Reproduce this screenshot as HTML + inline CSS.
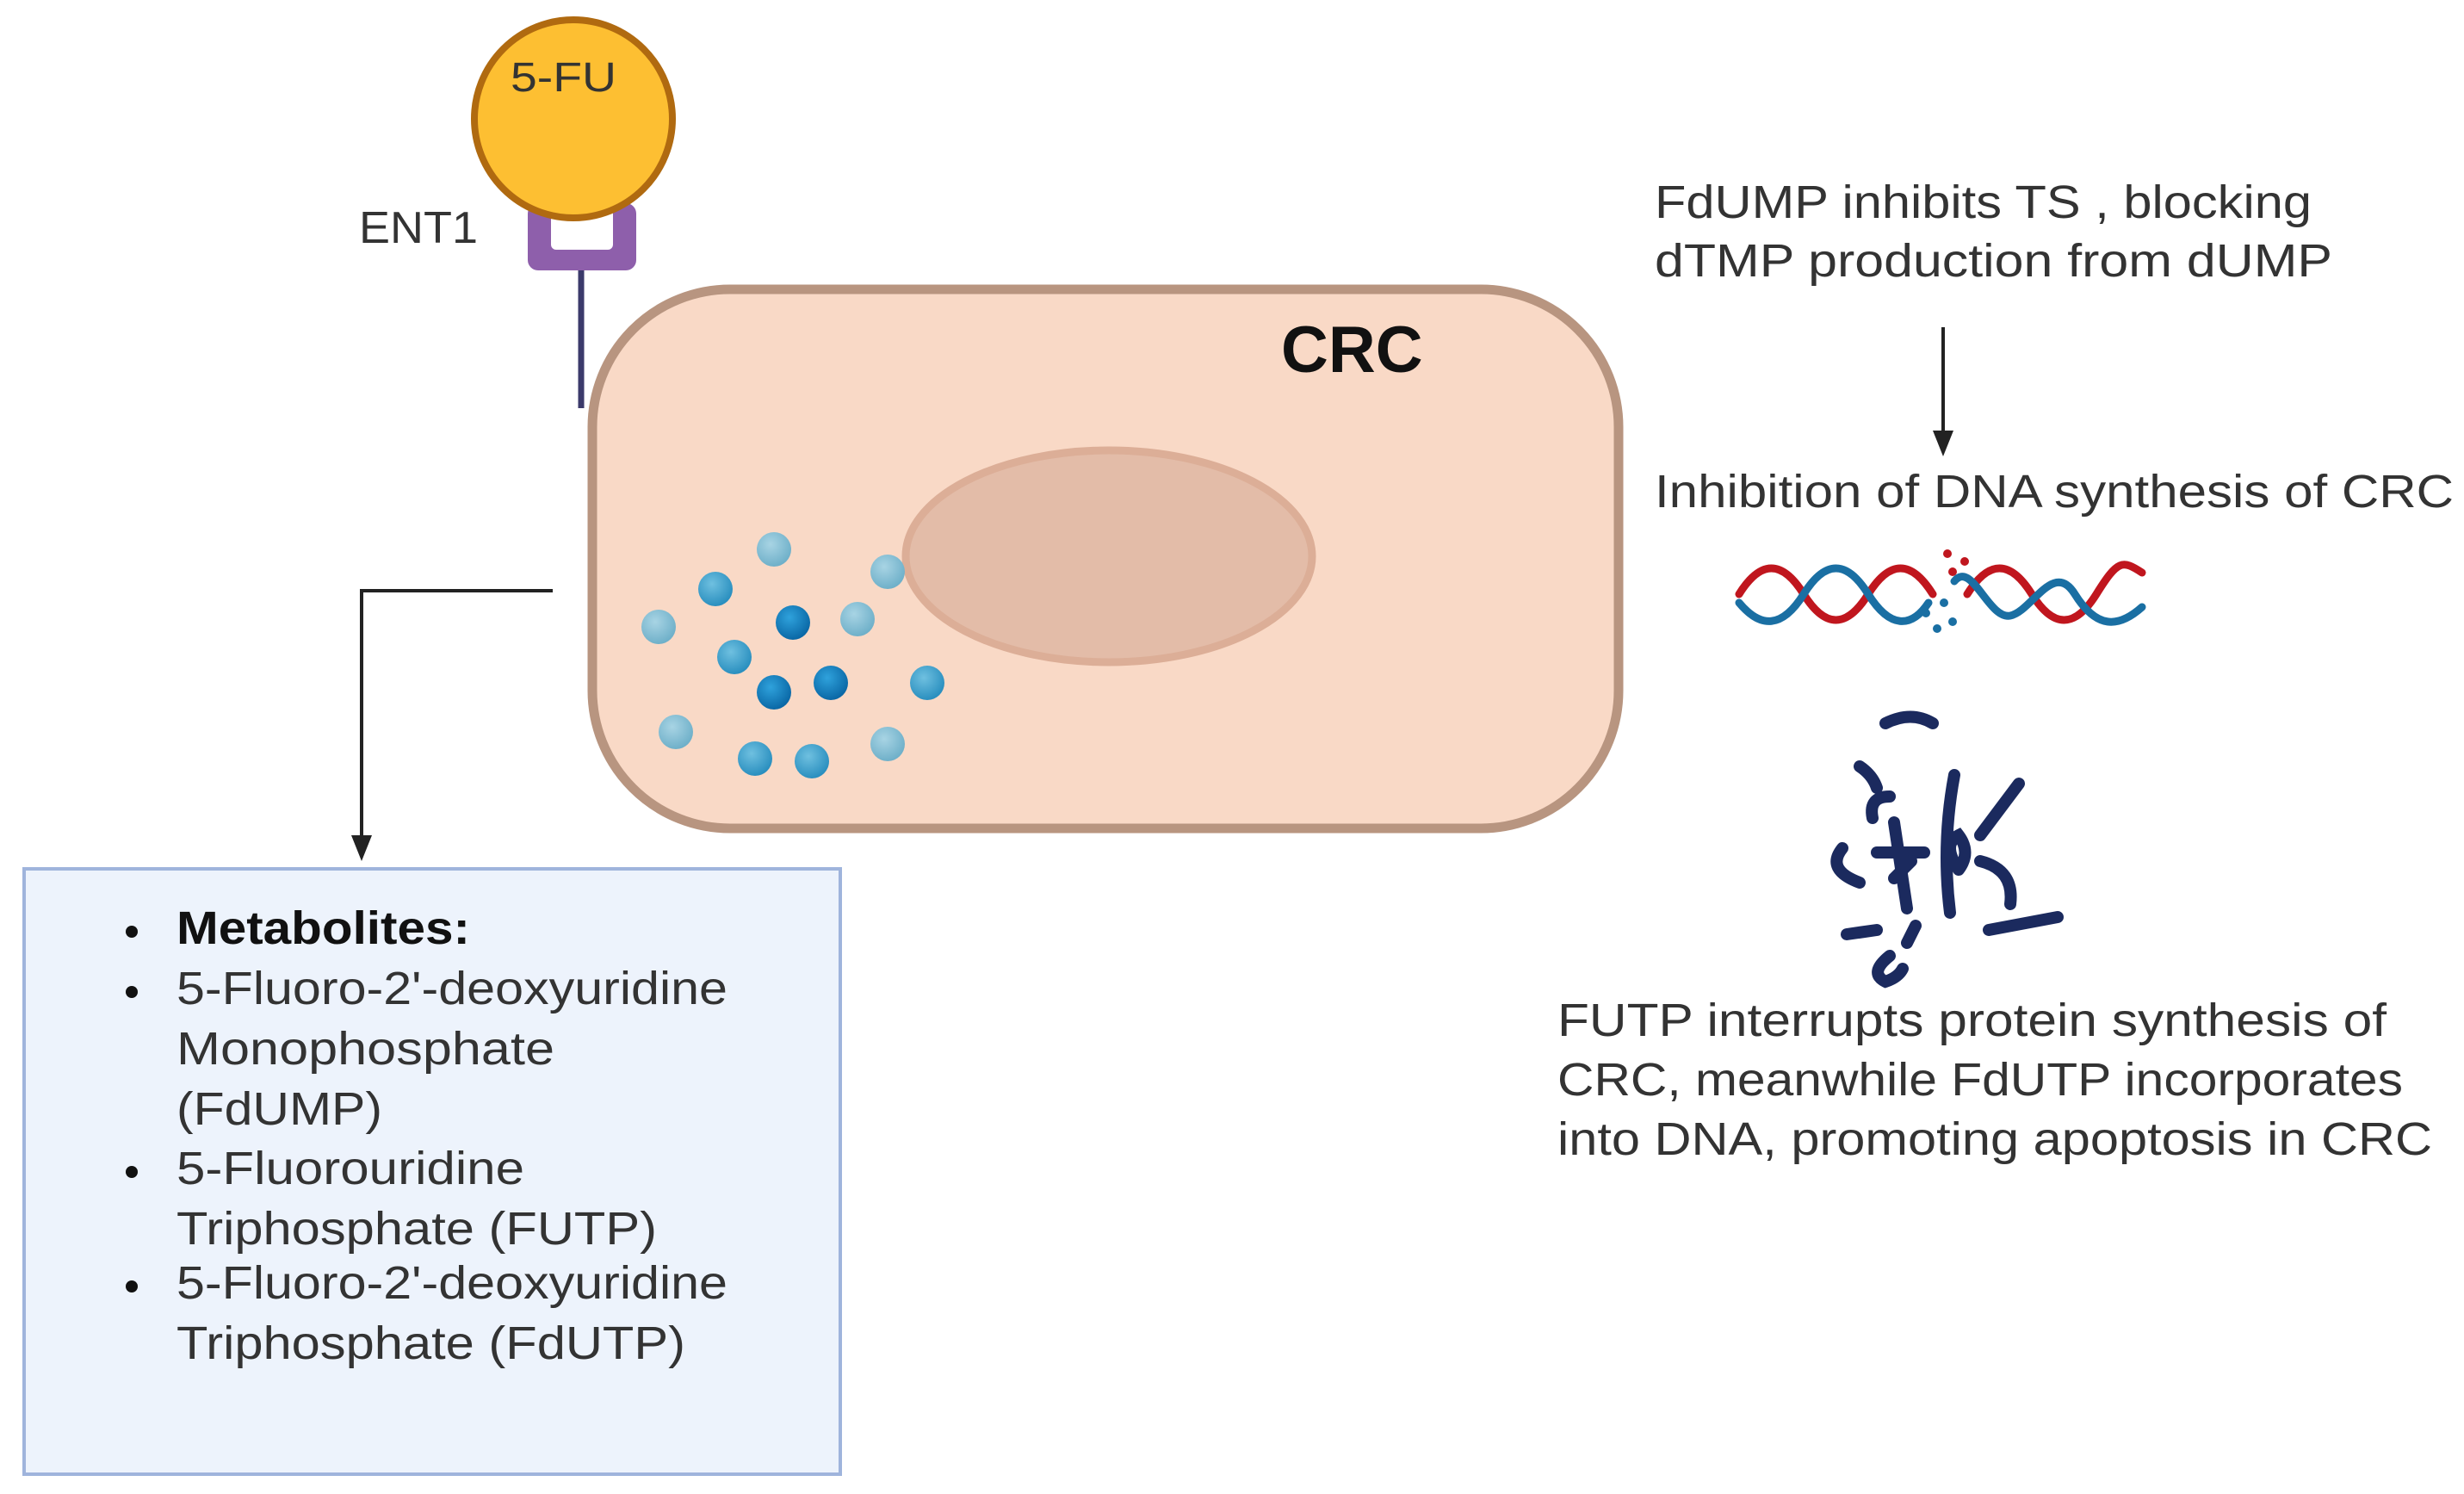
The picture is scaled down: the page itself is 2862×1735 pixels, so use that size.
<!DOCTYPE html>
<html><head><meta charset="utf-8"><style>
html,body{margin:0;padding:0;background:#fff;}
svg{display:block;}
text{font-family:"Liberation Sans",sans-serif;fill:#333;}
</style></head><body>
<svg width="2862" height="1735" viewBox="0 0 2862 1735" xmlns="http://www.w3.org/2000/svg">
<defs>
<radialGradient id="gl" cx="40%" cy="35%" r="65%"><stop offset="0" stop-color="#a8d4e4"/><stop offset="1" stop-color="#6fb0c9"/></radialGradient>
<radialGradient id="gm" cx="40%" cy="35%" r="65%"><stop offset="0" stop-color="#6fc0e0"/><stop offset="1" stop-color="#2a8fbf"/></radialGradient>
<radialGradient id="gd" cx="40%" cy="35%" r="65%"><stop offset="0" stop-color="#2fa2dc"/><stop offset="1" stop-color="#0a68a6"/></radialGradient>
</defs>

<rect x="688" y="336" width="1192" height="626" rx="160" ry="160" fill="#f9d9c6" stroke="#b89580" stroke-width="11"/>
<ellipse cx="1288" cy="646" rx="236" ry="123" fill="#e3bca8" stroke="#dcae97" stroke-width="9"/>
<text x="1488" y="432" font-size="76" font-weight="bold" style="fill:#111">CRC</text>

<g>
<circle cx="899" cy="638" r="20" fill="url(#gl)"/>
<circle cx="831" cy="684" r="20" fill="url(#gm)"/>
<circle cx="1031" cy="664" r="20" fill="url(#gl)"/>
<circle cx="765" cy="728" r="20" fill="url(#gl)"/>
<circle cx="921" cy="723" r="20" fill="url(#gd)"/>
<circle cx="996" cy="719" r="20" fill="url(#gl)"/>
<circle cx="853" cy="763" r="20" fill="url(#gm)"/>
<circle cx="899" cy="804" r="20" fill="url(#gd)"/>
<circle cx="965" cy="793" r="20" fill="url(#gd)"/>
<circle cx="1077" cy="793" r="20" fill="url(#gm)"/>
<circle cx="785" cy="850" r="20" fill="url(#gl)"/>
<circle cx="877" cy="881" r="20" fill="url(#gm)"/>
<circle cx="943" cy="884" r="20" fill="url(#gm)"/>
<circle cx="1031" cy="864" r="20" fill="url(#gl)"/>
</g>

<line x1="675" y1="310" x2="675" y2="474" stroke="#3b3a6b" stroke-width="7"/>
<rect x="613" y="236" width="126" height="78" rx="12" fill="#8e5fab"/>
<rect x="640" y="236" width="72" height="54" rx="6" fill="#fff"/>
<circle cx="666" cy="138" r="115" fill="#fdbf32" stroke="#b06a10" stroke-width="8"/>
<text x="593" y="106" font-size="48" textLength="123" lengthAdjust="spacingAndGlyphs">5-FU</text>
<text x="417" y="282" font-size="52" textLength="138" lengthAdjust="spacingAndGlyphs">ENT1</text>

<!-- connector -->
<polyline points="642,686 420,686 420,975" fill="none" stroke="#222" stroke-width="4"/>
<polygon points="408,970 432,970 420,1000" fill="#222"/>

<rect x="28" y="1009" width="948" height="703" fill="#edf3fc" stroke="#9fb4dc" stroke-width="4"/>
<g font-size="54">
<circle cx="153" cy="1082" r="7" fill="#111"/>
<text x="205" y="1096" font-weight="bold" style="fill:#111" textLength="341" lengthAdjust="spacingAndGlyphs">Metabolites:</text>
<circle cx="153" cy="1152" r="7" fill="#111"/>
<text x="205" y="1166" textLength="640" lengthAdjust="spacingAndGlyphs">5-Fluoro-2'-deoxyuridine</text>
<text x="205" y="1236" textLength="439" lengthAdjust="spacingAndGlyphs">Monophosphate</text>
<text x="205" y="1306" textLength="239" lengthAdjust="spacingAndGlyphs">(FdUMP)</text>
<circle cx="153" cy="1361" r="7" fill="#111"/>
<text x="205" y="1375" textLength="404" lengthAdjust="spacingAndGlyphs">5-Fluorouridine</text>
<text x="205" y="1445" textLength="558" lengthAdjust="spacingAndGlyphs">Triphosphate (FUTP)</text>
<circle cx="153" cy="1494" r="7" fill="#111"/>
<text x="205" y="1508" textLength="640" lengthAdjust="spacingAndGlyphs">5-Fluoro-2'-deoxyuridine</text>
<text x="205" y="1578" textLength="591" lengthAdjust="spacingAndGlyphs">Triphosphate (FdUTP)</text>
</g>

<g font-size="54">
<text x="1922" y="253" textLength="763" lengthAdjust="spacingAndGlyphs">FdUMP inhibits TS , blocking</text>
<text x="1922" y="321" textLength="787" lengthAdjust="spacingAndGlyphs">dTMP production from dUMP</text>
<text x="1922" y="589" textLength="928" lengthAdjust="spacingAndGlyphs">Inhibition of DNA synthesis of CRC</text>
<text x="1809" y="1203" textLength="963" lengthAdjust="spacingAndGlyphs">FUTP interrupts protein synthesis of</text>
<text x="1809" y="1272" textLength="982" lengthAdjust="spacingAndGlyphs">CRC, meanwhile FdUTP incorporates</text>
<text x="1809" y="1341" textLength="1016" lengthAdjust="spacingAndGlyphs">into DNA, promoting apoptosis in CRC</text>
</g>
<line x1="2257" y1="380" x2="2257" y2="505" stroke="#222" stroke-width="4"/>
<polygon points="2245,500 2269,500 2257,530" fill="#222"/>

<g fill="none" stroke-width="9" stroke-linecap="round">
<path d="M2020,690 C2045,650 2070,650 2095,690 S2145,730 2170,690 S2220,650 2245,690" stroke="#c0161e"/>
<path d="M2020,700 C2045,730 2070,730 2095,690 S2145,650 2170,690 S2220,730 2240,700" stroke="#1a6fa3"/>
<path d="M2285,690 C2310,650 2335,650 2360,690 S2410,730 2435,690 S2465,650 2488,665" stroke="#c0161e"/>
<path d="M2270,675 C2290,650 2310,720 2335,715 S2385,650 2410,690 S2460,730 2488,705" stroke="#1a6fa3"/>
</g>
<g fill="#c0161e"><circle cx="2262" cy="643" r="5"/><circle cx="2282" cy="652" r="5"/><circle cx="2268" cy="664" r="5"/></g>
<g fill="#1a6fa3"><circle cx="2237" cy="712" r="5"/><circle cx="2250" cy="730" r="5"/><circle cx="2268" cy="722" r="5"/><circle cx="2258" cy="700" r="5"/></g>

<g fill="none" stroke="#1b2a5e" stroke-width="14" stroke-linecap="round">
<path d="M2190,840 Q2220,825 2245,840"/>
<path d="M2160,890 Q2175,900 2180,915"/>
<path d="M2195,925 Q2170,925 2175,950"/>
<path d="M2140,985 Q2120,1010 2160,1025"/>
<path d="M2200,955 L2215,1055"/>
<path d="M2180,990 L2235,990"/>
<path d="M2220,1000 L2200,1020"/>
<path d="M2270,900 Q2255,980 2265,1060"/>
<path d="M2275,1010 Q2255,980 2275,970 Q2290,990 2275,1010"/>
<path d="M2300,970 L2345,910"/>
<path d="M2300,1000 Q2340,1010 2335,1050"/>
<path d="M2310,1080 L2390,1065"/>
<path d="M2145,1085 L2180,1080"/>
<path d="M2225,1075 L2215,1095"/>
<path d="M2195,1110 Q2170,1130 2190,1140 Q2205,1135 2210,1125"/>
</g>
</svg>
</body></html>
